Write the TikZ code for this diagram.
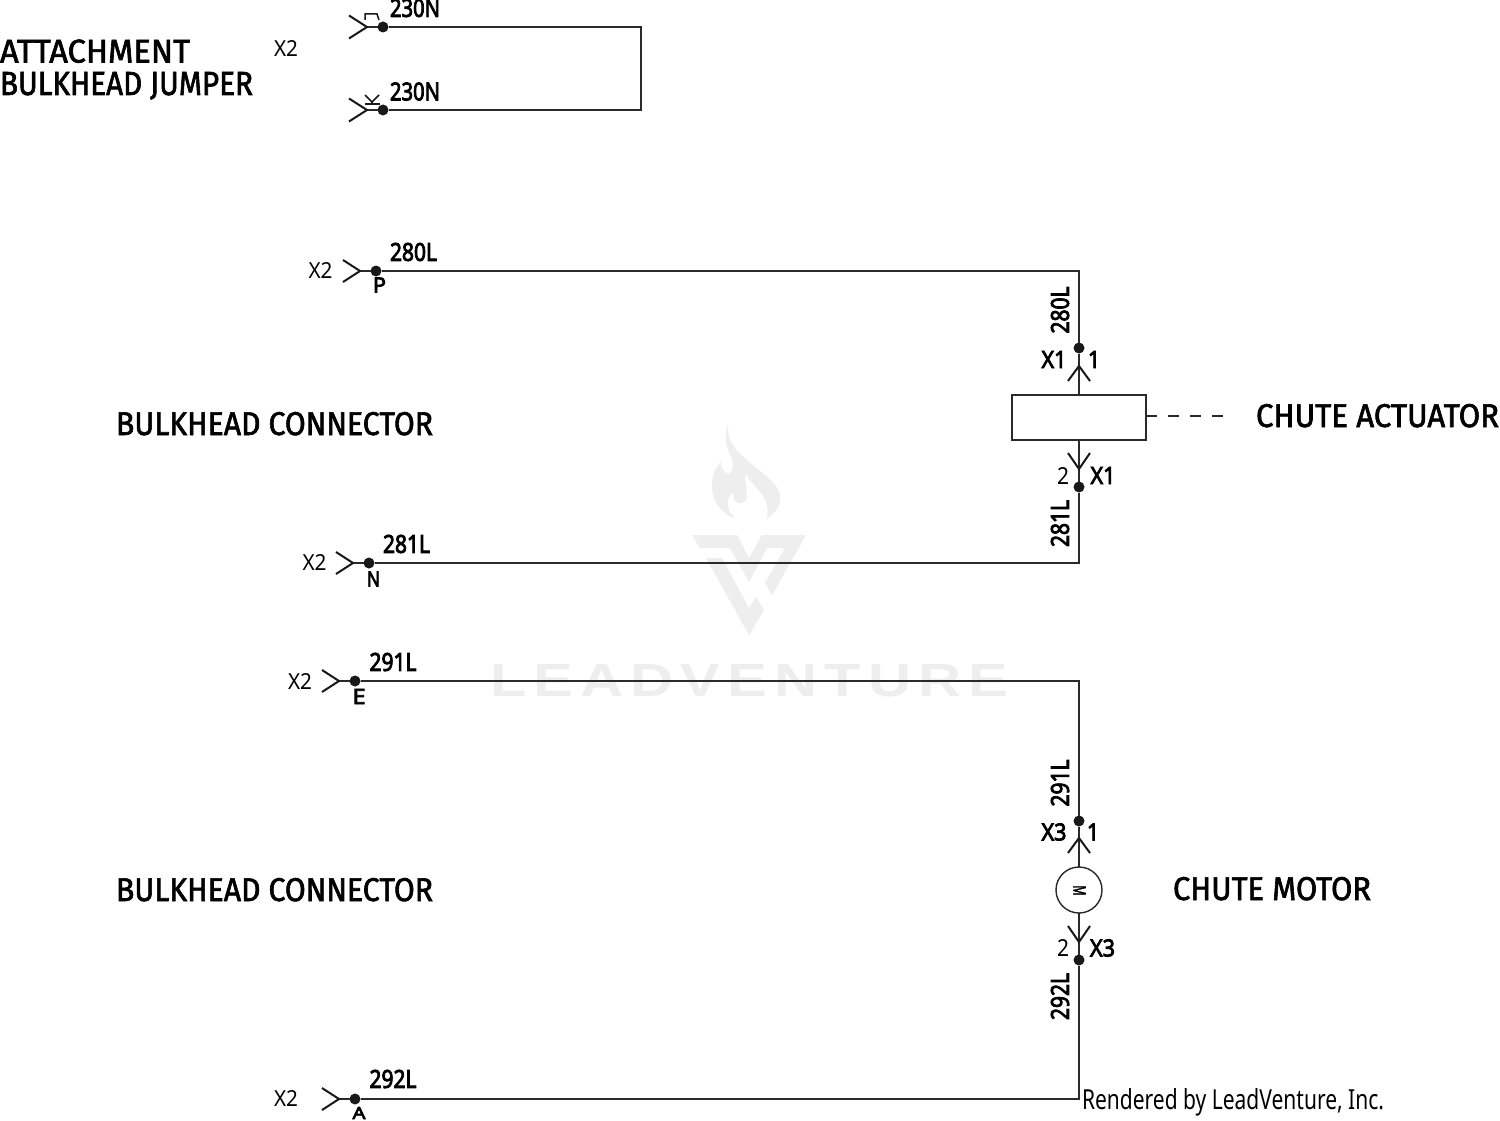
\documentclass[tikz,border=0pt]{standalone}
\usepackage{fontspec}
\usepackage{graphicx}
\setmainfont{Noto Sans}
\newfontfamily\labfont[FakeBold=3.5]{Noto Sans}
\newfontfamily\titlefont[FakeBold=2]{Fira Sans}
\newfontfamily\markfont[LetterSpace=12]{Liberation Sans}
\definecolor{wirecol}{HTML}{2A2A2A}
\definecolor{markcol}{HTML}{EEEEEE}
\newcommand{\fitbox}[3]{\resizebox{#1pt}{#2pt}{#3}}
\newcommand{\wlab}[1]{\fitbox{47}{18}{\labfont #1}}
\newcommand{\xbold}[1]{\fitbox{25}{17}{\labfont #1}}
\newcommand{\xthin}[1]{\fitbox{24}{16}{#1}}
\newcommand{\pinb}[1]{\fitbox{12}{17}{\labfont #1}}
\newcommand{\pint}[1]{\fitbox{12}{17}{#1}}
\newcommand{\letb}[2][15]{\fitbox{13}{#1}{\labfont #2}}
\newcommand{\ttl}[2]{\fitbox{#1}{23}{\titlefont #2}}
\tikzset{
  txt/.style={inner sep=0pt,outer sep=0pt,text=black},
  pindot/.style={circle,fill=black!90,draw=none,minimum size=11pt,inner sep=0pt,outer sep=0pt},
  wire/.style={draw=wirecol,line width=1.4pt},
  chev/.style={draw=black!90,line width=2pt,line join=miter},
  keyline/.style={draw=black!90,line width=1.5pt},
  comp/.style={draw=wirecol,line width=1.4pt,fill=white,inner sep=0pt,outer sep=0pt},
  wmark/.style={fill=markcol,draw=none}
}
\begin{document}
\begin{tikzpicture}[x=1pt,y=-1pt]
\useasboundingbox[fill=white] (0,0) rectangle (1500,1121);
% watermark
\fill[wmark] (728,424) .. controls (727,445) and (738,452) .. (755,467) .. controls (772,480) and (782,490) .. (780,500) .. controls (780,508) and (772,515) .. (767,519) .. controls (770,505) and (764,495) .. (755,486) .. controls (750,480) and (747,478) .. (746,473) .. controls (744,480) and (747,490) .. (747,498) .. controls (746,504) and (738,505) .. (735,501) .. controls (733,498) and (733,495) .. (733,492) .. controls (726,497) and (725,510) .. (735,518) .. controls (722,515) and (711,500) .. (712,485) .. controls (712,475) and (716,467) .. (721,462) .. controls (721,467) and (723,473) .. (729,474) .. controls (735,470) and (733,460) .. (729,452) .. controls (725,443) and (725,433) .. (728,424) -- cycle;
\fill[wmark] (692,535) -- (737,535) -- (749,558) -- (762,535) -- (806,535) -- (772,595) -- (765,583) -- (785,548) -- (767,548) -- (749,582) -- (730,548) -- (700,548) -- cycle;
\fill[wmark] (706,558) -- (722,558) -- (749,608) -- (756,597) -- (764,610) -- (749,635) -- cycle;
\node[txt,text=markcol,anchor=west] (wm) at (490,681) {\resizebox{518pt}{32pt}{\markfont\bfseries LEADVENTURE}};
% titles
\node[txt,anchor=base west] (t1) at (0,62.5) {\ttl{190}{ATTACHMENT}};
\node[txt,anchor=base west] (t2) at (0,95) {\ttl{253}{BULKHEAD JUMPER}};
\node[txt,anchor=base west] (t3) at (116,435) {\ttl{317}{BULKHEAD CONNECTOR}};
\node[txt,anchor=base west] (t4) at (116,901) {\ttl{317}{BULKHEAD CONNECTOR}};
\node[txt,anchor=base west] (t5) at (1256,427) {\ttl{243}{CHUTE ACTUATOR}};
\node[txt,anchor=base west] (t6) at (1173,900) {\ttl{198}{CHUTE MOTOR}};
\node[txt,anchor=west] (rend) at (1082,1102.5) {\fitbox{302}{21}{Rendered by LeadVenture, Inc.}};
% pin dots
\node[pindot] (j1) at (383,27) {};
\node[pindot] (j2) at (383,110) {};
\node[pindot] (p) at (376,271) {};
\node[pindot] (n) at (369,563) {};
\node[pindot] (e) at (355,681) {};
\node[pindot] (a) at (355,1099) {};
\node[pindot] (a1) at (1079,348) {};
\node[pindot] (a2) at (1079,487) {};
\node[pindot] (m1) at (1079,821) {};
\node[pindot] (m2) at (1079,960) {};
% components
\node[comp,minimum width=134pt,minimum height=45pt] (act) at (1079,417.5) {};
\node[comp,circle,minimum size=46pt] (mot) at (1079,890) {};
\node[txt,rotate=-90] (motm) at (1079.5,890.5) {\fitbox{10}{12}{\labfont M}};
% chevron tips
\coordinate (cj1) at (367,27);
\coordinate (cj2) at (367,110);
\coordinate (cp) at (360,271);
\coordinate (cn) at (353,563);
\coordinate (ce) at (339,681);
\coordinate (ca) at (339,1099);
\coordinate (ca1) at (1079,366);
\coordinate (ca2) at (1079,469);
\coordinate (cm1) at (1079,838);
\coordinate (cm2) at (1079,942);
\coordinate (dashend) at (1225,416);
% wires
\draw[wire] (j1) -- (cj1);
\draw[wire] (j2) -- (cj2);
\draw[wire] (j1) -- ++(258,0) |- (j2);
\draw[wire] (cp) -- (p) -| (a1);
\draw[wire] (cn) -- (n) -| (a2);
\draw[wire] (ce) -- (e) -| (m1);
\draw[wire] (ca) -- (a) -| (m2);
\draw[wire] (a1) -- (act.north);
\draw[wire] (a2) -- (act.south);
\draw[wire] (m1) -- (mot.north);
\draw[wire] (m2) -- (mot.south);
\draw[wire,dash pattern=on 11pt off 11pt] (act.east |- dashend) -- (dashend);
% chevrons
\foreach \c in {cj1,cj2} \draw[chev] ([shift={(-18,-11.5)}]\c) -- (\c) -- ([shift={(-18,11.5)}]\c);
\foreach \c in {cp,cn,ce,ca} \draw[chev] ([shift={(-17,-11)}]\c) -- (\c) -- ([shift={(-17,11)}]\c);
\foreach \c in {ca1,cm1} \draw[chev] ([shift={(-11,15)}]\c) -- (\c) -- ([shift={(11,15)}]\c);
\foreach \c in {ca2,cm2} \draw[chev] ([shift={(-11,-16)}]\c) -- (\c) -- ([shift={(11,-16)}]\c);
% key marks on the jumper
\draw[keyline] ([shift={(-2,-7)}]cj1) -- ([shift={(-2,-13)}]cj1) -- ([shift={(10,-13)}]cj1) -- ([shift={(12,-7)}]cj1);
\draw[keyline] ([shift={(-2,-6)}]cj2) -- ([shift={(13,-6)}]cj2);
\draw[keyline] ([shift={(-2,-15)}]cj2) -- ([shift={(5,-8)}]cj2) -- ([shift={(12,-15)}]cj2);
\draw[keyline] ([shift={(5,-8)}]cj2) -- ([shift={(5,-6)}]cj2);
% jumper labels
\node[txt] (xj) at (286,48.5) {\xthin{X2}};
\node[txt] (w1) at (415,8) {\fitbox{50}{18}{\labfont 230N}};
\node[txt] (w2) at (415,91.5) {\fitbox{50}{18}{\labfont 230N}};
% wire labels
\node[txt] (w3) at (413.5,252) {\wlab{280L}};
\node[txt] (w4) at (406.5,544) {\wlab{281L}};
\node[txt] (w5) at (393,662) {\wlab{291L}};
\node[txt] (w6) at (393,1079) {\wlab{292L}};
\node[txt,rotate=90] (w7) at (1060,310) {\wlab{280L}};
\node[txt,rotate=90] (w8) at (1060,523.5) {\wlab{281L}};
\node[txt,rotate=90] (w9) at (1060,783) {\wlab{291L}};
\node[txt,rotate=90] (w10) at (1060,996.5) {\wlab{292L}};
% X2 labels
\node[txt] (x1) at (320.5,270) {\xthin{X2}};
\node[txt] (x2) at (314.5,562) {\xthin{X2}};
\node[txt] (x3) at (300,681) {\xthin{X2}};
\node[txt] (x4) at (286,1098) {\xthin{X2}};
% pin letters
\node[txt] (lp) at (379.5,285) {\letb{P}};
\node[txt] (ln) at (373.5,579) {\letb{N}};
\node[txt] (le) at (359,696.5) {\letb{E}};
\node[txt] (la) at (359,1113) {\letb[12]{A}};
% connector labels
\node[txt] (x5) at (1054,359.5) {\xbold{X1}};
\node[txt] (p1) at (1094,359.5) {\pinb{1}};
\node[txt] (p2) at (1063,476) {\pint{2}};
\node[txt] (x6) at (1103,475.5) {\xbold{X1}};
\node[txt] (x7) at (1054,832) {\xbold{X3}};
\node[txt] (p3) at (1093,832) {\pinb{1}};
\node[txt] (p4) at (1063,948) {\pint{2}};
\node[txt] (x8) at (1102.5,948) {\xbold{X3}};
\end{tikzpicture}
\end{document}
